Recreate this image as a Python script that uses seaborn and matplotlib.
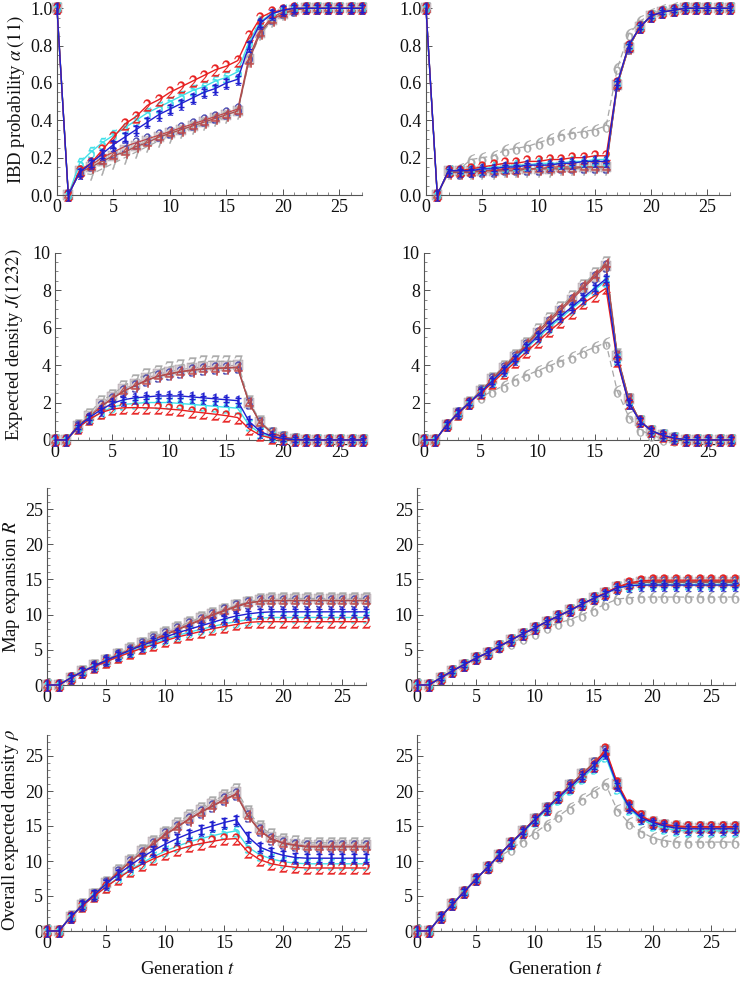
import matplotlib
matplotlib.use("Agg")
import matplotlib.pyplot as plt
import seaborn as sns
from matplotlib.ticker import MultipleLocator

# ---------------- data ----------------
t = list(range(28))

# IBD probability alpha(11), left panel
ibd_L_1 = [1, 0, .12, .17, .22, .27, .31, .35, .39, .43, .46, .49, .52, .55, .57, .60, .62, .80, .92, .97, .99] + [1.0] * 7
ibd_L_2 = [1, 0, .13, .17, .24, .31, .38, .42, .48, .51, .55, .58, .61, .64, .67, .69, .72, .85, .95, .98, .99] + [1.0] * 7
ibd_L_3 = [1, 0, .13, .16, .20, .23, .26, .28, .30, .32, .34, .36, .38, .40, .42, .44, .46, .74, .88, .95, .98, .99] + [1.0] * 6
ibd_L_4 = [1, 0, .12, .15, .18, .21, .23, .26, .28, .31, .33, .35, .37, .39, .41, .43, .45, .72, .87, .94, .97, .99] + [1.0] * 6
ibd_L_5 = [1, 0, .17, .23, .28, .32, .36, .40, .44, .47, .50, .53, .56, .58, .61, .63, .66, .82, .93, .97, .99] + [1.0] * 7
ibd_L_7 = [1, 0, .12, .11, .14, .17, .20, .23, .26, .29, .31, .34, .36, .38, .40, .42, .44, .72, .86, .93, .97, .99] + [1.0] * 6
ibd_L_8 = [1, 0, .13, .15, .18, .21, .24, .26, .29, .31, .33, .35, .37, .39, .41, .43, .45, .73, .87, .94, .97, .99] + [1.0] * 6

# IBD probability, right panel
ibd_R_1 = [1, 0, .13, .13, .13, .14, .14, .15, .15, .16, .16, .16, .17, .17, .18, .18, .18, .60, .80, .90, .96, .98, .99] + [1.0] * 5
ibd_R_2 = [1, 0, .13, .13, .14, .15, .16, .17, .17, .18, .18, .19, .19, .20, .20, .21, .21, .60, .80, .90, .96, .98, .99] + [1.0] * 5
ibd_R_3 = [1, 0, .13, .12, .13, .13, .13, .14, .14, .14, .14, .15, .15, .15, .15, .15, .15, .59, .79, .90, .96, .98, .99] + [1.0] * 5
ibd_R_4 = [1, 0, .12, .12, .12, .13, .13, .13, .13, .14, .14, .14, .14, .14, .15, .15, .15, .59, .79, .90, .96, .98, .99] + [1.0] * 5
ibd_R_5 = [1, 0, .13, .13, .14, .14, .15, .15, .16, .16, .17, .17, .17, .18, .18, .19, .19, .60, .80, .90, .96, .98, .99] + [1.0] * 5
ibd_R_6 = [1, 0, .13, .14, .19, .20, .21, .24, .25, .26, .28, .30, .32, .33, .34, .35, .37, .68, .86, .93, .97, .99] + [1.0] * 6
ibd_R_7 = [1, 0, .12, .12, .12, .12, .12, .13, .13, .13, .13, .13, .14, .14, .14, .14, .14, .59, .79, .90, .96, .98, .99] + [1.0] * 5
ibd_R_8 = [1, 0, .13, .13, .13, .13, .13, .14, .14, .14, .14, .14, .15, .15, .15, .15, .15, .59, .79, .90, .96, .98, .99] + [1.0] * 5

# Expected density J(1232), left
j_L_1 = [0, 0, .70, 1.20, 1.60, 1.95, 2.15, 2.25, 2.30, 2.35, 2.35, 2.35, 2.30, 2.25, 2.20, 2.15, 2.10, 1.00, .45, .20, .08, .02] + [0.0] * 6
j_L_2 = [0, 0, .65, 1.10, 1.45, 1.65, 1.72, 1.73, 1.72, 1.70, 1.65, 1.60, 1.52, 1.45, 1.38, 1.30, 1.20, .60, .25, .10, .03, .01] + [0.0] * 6
j_L_3 = [0, 0, .75, 1.20, 1.80, 2.20, 2.60, 2.90, 3.20, 3.40, 3.55, 3.65, 3.75, 3.80, 3.85, 3.85, 3.90, 2.00, .90, .40, .15, .05] + [0.0] * 6
j_L_4 = [0, 0, .75, 1.25, 1.75, 2.20, 2.60, 2.90, 3.15, 3.40, 3.50, 3.65, 3.70, 3.80, 3.80, 3.85, 3.85, 2.00, .90, .40, .15, .05] + [0.0] * 6
j_L_5 = [0, 0, .65, 1.10, 1.45, 1.75, 1.90, 1.95, 2.00, 2.00, 2.00, 1.95, 1.90, 1.85, 1.80, 1.75, 1.70, .80, .35, .15, .05, .01] + [0.0] * 6
j_L_7 = [0, 0, .80, 1.40, 2.10, 2.40, 2.90, 3.20, 3.50, 3.70, 3.90, 4.00, 4.10, 4.20, 4.20, 4.20, 4.20, 2.10, 1.00, .40, .15, .05] + [0.0] * 6
j_L_8 = [0, 0, .75, 1.30, 1.90, 2.30, 2.70, 3.00, 3.30, 3.50, 3.65, 3.75, 3.85, 3.90, 3.95, 3.95, 4.00, 2.00, .95, .40, .15, .05] + [0.0] * 6

# Expected density J(1232), right
j_R_1 = [0, 0, .80, 1.45, 2.00, 2.55, 3.15, 3.75, 4.35, 4.95, 5.55, 6.10, 6.60, 7.10, 7.60, 8.10, 8.60, 4.30, 2.00, 1.00, .50, .25, .10, .02] + [0.0] * 4
j_R_2 = [0, 0, .80, 1.40, 2.00, 2.50, 3.05, 3.60, 4.15, 4.70, 5.25, 5.80, 6.30, 6.80, 7.30, 7.70, 8.10, 4.20, 2.00, 1.00, .50, .20, .08, .02] + [0.0] * 4
j_R_3 = [0, 0, .80, 1.45, 2.00, 2.60, 3.25, 3.85, 4.45, 5.05, 5.70, 6.30, 6.90, 7.50, 8.10, 8.70, 9.30, 4.50, 2.20, 1.00, .50, .25, .10, .02] + [0.0] * 4
j_R_4 = [0, 0, .80, 1.45, 2.00, 2.60, 3.25, 3.90, 4.50, 5.10, 5.80, 6.40, 7.00, 7.60, 8.20, 8.80, 9.40, 4.50, 2.20, 1.00, .50, .25, .10, .02] + [0.0] * 4
j_R_5 = [0, 0, .80, 1.40, 2.00, 2.55, 3.10, 3.70, 4.30, 4.90, 5.45, 6.00, 6.50, 7.00, 7.50, 8.00, 8.50, 4.30, 2.00, 1.00, .50, .25, .10, .02] + [0.0] * 4
j_R_6 = [0, 0, .80, 1.40, 2.00, 2.30, 2.60, 2.90, 3.20, 3.45, 3.70, 3.95, 4.20, 4.45, 4.70, 4.95, 5.20, 2.60, 1.25, .55, .25, .08, .02] + [0.0] * 5
j_R_7 = [0, 0, .80, 1.45, 2.05, 2.65, 3.30, 3.95, 4.55, 5.20, 5.90, 6.50, 7.10, 7.70, 8.30, 8.90, 9.50, 4.60, 2.20, 1.00, .50, .25, .10, .02] + [0.0] * 4
j_R_8 = [0, 0, .80, 1.45, 2.00, 2.60, 3.25, 3.85, 4.45, 5.05, 5.70, 6.30, 6.90, 7.50, 8.10, 8.70, 9.30, 4.50, 2.20, 1.00, .50, .25, .10, .02] + [0.0] * 4

# Map expansion R, left
r_L_1 = [0, 0, 1.0, 1.9, 2.7, 3.5, 4.2, 4.9, 5.6, 6.2, 6.8, 7.4, 7.9, 8.4, 8.9, 9.4, 9.8, 10.1, 10.3] + [10.4] * 9
r_L_2 = [0, 0, 1.0, 1.9, 2.6, 3.3, 4.0, 4.6, 5.2, 5.7, 6.3, 6.8, 7.2, 7.6, 8.0, 8.3, 8.6, 8.9, 9.0] + [9.0] * 9
r_L_3 = [0, 0, 1.0, 1.9, 2.7, 3.5, 4.3, 5.0, 5.8, 6.5, 7.2, 7.9, 8.6, 9.3, 10.0, 10.6, 11.2, 11.7, 11.9] + [12.0] * 9
r_L_4 = [0, 0, 1.0, 1.9, 2.7, 3.5, 4.2, 5.0, 5.7, 6.4, 7.1, 7.8, 8.5, 9.2, 9.9, 10.5, 11.1, 11.6, 11.9] + [12.0] * 9
r_L_5 = [0, 0, 1.0, 1.9, 2.6, 3.3, 4.0, 4.7, 5.3, 5.9, 6.5, 7.0, 7.5, 7.9, 8.3, 8.7, 9.0, 9.3, 9.5] + [9.6] * 9
r_L_7 = [0, 0, 1.0, 2.0, 2.8, 3.6, 4.4, 5.2, 6.0, 6.8, 7.5, 8.2, 8.9, 9.6, 10.2, 10.8, 11.3, 11.8, 12.2] + [12.3] * 9
r_L_8 = [0, 0, 1.0, 2.0, 2.8, 3.6, 4.4, 5.1, 5.9, 6.7, 7.4, 8.1, 8.8, 9.5, 10.1, 10.7, 11.3, 11.8, 12.1] + [12.2] * 9

# Map expansion R, right
r_R_1 = [0, 0, 1.0, 2.0, 2.9, 3.8, 4.6, 5.5, 6.4, 7.3, 8.1, 9.0, 9.8, 10.6, 11.5, 12.3, 13.0, 13.8, 14.1, 14.2] + [14.2] * 8
r_R_2 = [0, 0, 1.0, 2.0, 2.9, 3.8, 4.6, 5.5, 6.4, 7.3, 8.1, 9.0, 9.8, 10.6, 11.5, 12.3, 13.1, 13.9, 14.5, 14.8] + [14.9] * 8
r_R_3 = [0, 0, 1.0, 2.0, 2.9, 3.8, 4.6, 5.5, 6.4, 7.3, 8.1, 9.0, 9.8, 10.6, 11.5, 12.3, 13.1, 13.9, 14.4, 14.6] + [14.7] * 8
r_R_4 = [0, 0, 1.0, 2.0, 2.9, 3.8, 4.6, 5.5, 6.4, 7.3, 8.1, 9.0, 9.8, 10.6, 11.5, 12.3, 13.1, 13.9, 14.4, 14.6] + [14.6] * 8
r_R_5 = [0, 0, 1.0, 2.0, 2.9, 3.8, 4.6, 5.5, 6.4, 7.3, 8.1, 9.0, 9.8, 10.6, 11.5, 12.3, 13.0, 13.8, 14.1, 14.3] + [14.3] * 8
r_R_6 = [0, 0, 1.0, 2.0, 2.9, 3.8, 4.6, 5.4, 6.0, 6.7, 7.4, 8.2, 8.8, 9.3, 10.0, 10.7, 11.5, 12.2, 12.4, 12.5] + [12.5] * 8
r_R_7 = [0, 0, 1.0, 2.0, 2.9, 3.8, 4.6, 5.5, 6.4, 7.3, 8.1, 9.0, 9.8, 10.6, 11.5, 12.3, 13.1, 13.9, 14.4, 14.7] + [14.8] * 8
r_R_8 = [0, 0, 1.0, 2.0, 2.9, 3.8, 4.6, 5.5, 6.4, 7.3, 8.1, 9.0, 9.8, 10.6, 11.5, 12.3, 13.1, 13.9, 14.4, 14.6] + [14.6] * 8

# Overall expected density rho, left
rho_L_1 = [0, 0, 2.0, 3.7, 5.2, 6.7, 8.1, 9.3, 10.5, 11.5, 12.4, 13.2, 13.9, 14.5, 15.0, 15.5, 15.9, 13.5, 12.0, 11.3, 10.8, 10.5] + [10.4] * 6
rho_L_2 = [0, 0, 2.0, 3.6, 5.0, 6.3, 7.5, 8.6, 9.5, 10.3, 11.0, 11.6, 12.1, 12.5, 12.8, 13.1, 13.2, 11.3, 10.2, 9.6, 9.3, 9.1] + [9.0] * 6
rho_L_3 = [0, 0, 2.0, 3.7, 5.2, 6.8, 8.4, 9.8, 11.2, 12.5, 13.8, 14.9, 16.0, 17.0, 17.9, 18.8, 19.6, 16.5, 14.4, 13.2, 12.6, 12.3] + [12.1] * 6
rho_L_4 = [0, 0, 2.0, 3.7, 5.2, 6.8, 8.3, 9.8, 11.1, 12.4, 13.7, 14.8, 15.9, 16.9, 17.8, 18.7, 19.5, 16.4, 14.3, 13.1, 12.5, 12.2] + [12.0] * 6
rho_L_5 = [0, 0, 2.0, 3.6, 5.0, 6.3, 7.6, 8.7, 9.7, 10.6, 11.4, 12.1, 12.7, 13.2, 13.6, 14.0, 14.3, 12.0, 10.9, 10.3, 9.9, 9.7] + [9.6] * 6
rho_L_7 = [0, 0, 2.1, 3.8, 5.3, 7.0, 8.7, 10.1, 11.6, 12.9, 14.2, 15.4, 16.6, 17.6, 18.5, 19.4, 20.3, 17.2, 15.0, 13.8, 13.1, 12.8] + [12.6] * 6
rho_L_8 = [0, 0, 2.0, 3.7, 5.3, 6.9, 8.5, 10.0, 11.4, 12.7, 14.0, 15.2, 16.3, 17.3, 18.2, 19.1, 19.9, 16.8, 14.7, 13.5, 12.8, 12.5] + [12.3] * 6

# Overall expected density rho, right
rho_R_1 = [0, 0, 2.0, 3.8, 5.6, 7.4, 9.1, 10.9, 12.6, 14.2, 15.9, 17.5, 19.1, 20.6, 22.1, 23.6, 25.4, 20.8, 17.7, 16.2, 15.5, 15.0, 14.7] + [14.6] * 5
rho_R_2 = [0, 0, 2.0, 3.8, 5.6, 7.4, 9.1, 10.9, 12.6, 14.2, 15.9, 17.5, 19.1, 20.6, 22.1, 23.6, 26.0, 21.2, 18.0, 16.5, 15.6, 15.2, 15.0] + [14.9] * 5
rho_R_3 = [0, 0, 2.0, 3.8, 5.6, 7.4, 9.1, 10.9, 12.6, 14.3, 16.0, 17.6, 19.2, 20.8, 22.4, 24.0, 25.7, 21.0, 17.8, 16.4, 15.5, 15.1, 14.9] + [14.8] * 5
rho_R_4 = [0, 0, 2.0, 3.8, 5.6, 7.4, 9.1, 10.9, 12.6, 14.3, 16.0, 17.6, 19.2, 20.8, 22.4, 24.0, 25.6, 20.9, 17.8, 16.3, 15.5, 15.0, 14.8] + [14.7] * 5
rho_R_5 = [0, 0, 2.0, 3.8, 5.6, 7.4, 9.1, 10.8, 12.5, 14.1, 15.7, 17.3, 18.8, 20.3, 21.8, 23.3, 25.0, 20.5, 17.5, 16.0, 15.2, 14.7, 14.4] + [14.3] * 5
rho_R_6 = [0, 0, 2.0, 3.8, 5.6, 7.4, 9.0, 10.6, 11.7, 12.9, 14.0, 15.2, 16.4, 17.6, 18.8, 19.9, 21.0, 17.3, 15.4, 14.2, 13.3, 12.9, 12.7] + [12.7] * 5
rho_R_7 = [0, 0, 2.0, 3.8, 5.6, 7.4, 9.1, 10.9, 12.6, 14.3, 16.0, 17.6, 19.2, 20.8, 22.4, 24.0, 25.9, 21.1, 17.9, 16.4, 15.6, 15.2, 15.0] + [14.9] * 5
rho_R_8 = [0, 0, 2.0, 3.8, 5.6, 7.4, 9.1, 10.9, 12.6, 14.3, 16.0, 17.6, 19.2, 20.8, 22.4, 24.0, 25.7, 21.0, 17.8, 16.4, 15.5, 15.1, 14.8] + [14.7] * 5

# half-widths of the error bars on series 1
err_1 = {"ibdL": 0.02, "ibdR": 0.01, "jL": 0.12, "jR": 0.15, "rL": 0.45, "rR": 0.3, "rhoL": 0.6, "rhoR": 0.4}

y_labels = [r"IBD probability $\alpha\,\mathit{(11)}$",
            r"Expected density $J\mathit{(1232)}$",
            r"Map expansion $R$",
            r"Overall expected density $\rho$"]
x_label = r"Generation $t$"

# ---------------- style ----------------
sns.set_theme(style="ticks")
plt.rcParams['font.family'] = ['Liberation Serif', 'DejaVu Serif']
plt.rcParams['mathtext.fontset'] = 'stix'

BLUE = "#2020d0"
RED = "#e82020"
CYAN = "#40e0e8"
BROWN = "#c04848"
NAVY = "#4848b0"
GRAY = "#a8a8a8"

series_style = {
    8: dict(color="#b09aa4", ls="-", lw=0.8, marker="s", ms=7, mfc="#cfc6cb", mec="#9a8a92", alpha=0.9, z=2),
    7: dict(color=GRAY, ls=(0, (5, 3)), lw=0.9, marker="$7$", ms=8.5, mfc=GRAY, mec=GRAY, alpha=1, z=2.5),
    6: dict(color=GRAY, ls=(0, (5, 3)), lw=0.9, marker="$6$", ms=8.5, mfc=GRAY, mec=GRAY, alpha=1, z=2.6),
    3: dict(color=BROWN, ls="-", lw=0.9, marker="$3$", ms=8.5, mfc=NAVY, mec=NAVY, alpha=1, z=3),
    4: dict(color="#a85050", ls="-", lw=0.9, marker="$4$", ms=8.5, mfc=BROWN, mec=BROWN, alpha=1, z=3.1),
    5: dict(color=CYAN, ls="-", lw=1.0, marker="$5$", ms=8.5, mfc=CYAN, mec=CYAN, alpha=1, z=3.2),
    1: dict(color=BLUE, ls="-", lw=1.0, marker="$1$", ms=8.5, mfc=BLUE, mec=BLUE, alpha=1, z=3.4),
    2: dict(color=RED, ls="-", lw=1.0, marker="$2$", ms=8.5, mfc=RED, mec=RED, alpha=1, z=3.3),
}

panels = [
    [("ibdL", {8: ibd_L_8, 7: ibd_L_7, 3: ibd_L_3, 4: ibd_L_4, 5: ibd_L_5, 1: ibd_L_1, 2: ibd_L_2}),
     ("ibdR", {8: ibd_R_8, 7: ibd_R_7, 6: ibd_R_6, 3: ibd_R_3, 4: ibd_R_4, 5: ibd_R_5, 1: ibd_R_1, 2: ibd_R_2})],
    [("jL", {8: j_L_8, 7: j_L_7, 3: j_L_3, 4: j_L_4, 5: j_L_5, 1: j_L_1, 2: j_L_2}),
     ("jR", {8: j_R_8, 7: j_R_7, 6: j_R_6, 3: j_R_3, 4: j_R_4, 5: j_R_5, 1: j_R_1, 2: j_R_2})],
    [("rL", {8: r_L_8, 7: r_L_7, 3: r_L_3, 4: r_L_4, 5: r_L_5, 1: r_L_1, 2: r_L_2}),
     ("rR", {8: r_R_8, 7: r_R_7, 6: r_R_6, 3: r_R_3, 4: r_R_4, 5: r_R_5, 1: r_R_1, 2: r_R_2})],
    [("rhoL", {8: rho_L_8, 7: rho_L_7, 3: rho_L_3, 4: rho_L_4, 5: rho_L_5, 1: rho_L_1, 2: rho_L_2}),
     ("rhoR", {8: rho_R_8, 7: rho_R_7, 6: rho_R_6, 3: rho_R_3, 4: rho_R_4, 5: rho_R_5, 1: rho_R_1, 2: rho_R_2})],
]

W, H = 740, 981
# axes rectangles in pixels: (x0, x1, y_top, y_bottom)
rects = [
    [(57, 362, 8.3, 195), (426, 730, 8.3, 195)],
    [(55, 363, 252.7, 440), (424, 731, 252.7, 440)],
    [(47, 366, 488, 685), (417, 735, 488, 685)],
    [(47, 366, 735, 931), (417, 735, 735, 931)],
]
ylims = [(0, 1.0), (0, 10.0), (0, 28), (0, 28)]
ymajor = [0.2, 2, 5, 5]
yminor = [0.05, 0.5, 1, 1]
ylabel_pos = [(16, 100), (14, 345), (12, 587), (11, 830)]

fig = plt.figure(figsize=(W / 100, H / 100), dpi=100)

for r, row in enumerate(panels):
    for c, (key, ser) in enumerate(row):
        x0, x1, yt, yb = rects[r][c]
        ax = fig.add_axes([x0 / W, (H - yb) / H, (x1 - x0) / W, (yb - yt) / H])
        for k, vals in ser.items():
            st = series_style[k]
            assert len(vals) == len(t), (key, k, len(vals))
            sns.lineplot(x=t, y=vals, ax=ax, color=st["color"], linestyle=st["ls"],
                         linewidth=st["lw"], marker=st["marker"], markersize=st["ms"],
                         markerfacecolor=st["mfc"], markeredgecolor=st["mec"],
                         markeredgewidth=0.3, alpha=st["alpha"], zorder=st["z"],
                         clip_on=False, errorbar=None, legend=False)
            if k == 1:
                ax.errorbar(t[2:], vals[2:], yerr=err_1[key], fmt="none", ecolor=BLUE,
                            elinewidth=1.0, capsize=2.5, capthick=1.0, zorder=3.5, clip_on=False)
        ax.set_xlim(0, 27)
        ax.set_ylim(*ylims[r])
        ax.xaxis.set_major_locator(MultipleLocator(5))
        ax.xaxis.set_minor_locator(MultipleLocator(1))
        ax.yaxis.set_major_locator(MultipleLocator(ymajor[r]))
        ax.yaxis.set_minor_locator(MultipleLocator(yminor[r]))
        if r == 0:
            ax.set_yticks(ax.get_yticks())
            ax.set_yticklabels([f"{v:.1f}" for v in ax.get_yticks()])
            ax.set_ylim(*ylims[r])
        sns.despine(ax=ax)
        for s in ("left", "bottom"):
            ax.spines[s].set_color("#555555")
            ax.spines[s].set_linewidth(0.8)
        ax.tick_params(which="major", direction="in", length=4.5, width=0.7, color="#555555",
                       labelsize=13, pad=3, labelcolor="#111111")
        ax.tick_params(which="minor", direction="in", length=2.5, width=0.5, color="#555555")
        ax.set_xlabel("")
        ax.set_ylabel("")
        ax.set_facecolor("white")
    lx, ly = ylabel_pos[r]
    fig.text(lx / W, 1 - ly / H, y_labels[r], rotation=90, ha="center", va="center",
             fontsize=13.5, color="#111111")

fig.text(188 / W, 1 - 970 / H, x_label, ha="center", va="center", fontsize=13.5, color="#111111")
fig.text(556 / W, 1 - 970 / H, x_label, ha="center", va="center", fontsize=13.5, color="#111111")

fig.savefig("out.png", dpi=100, facecolor="white")
